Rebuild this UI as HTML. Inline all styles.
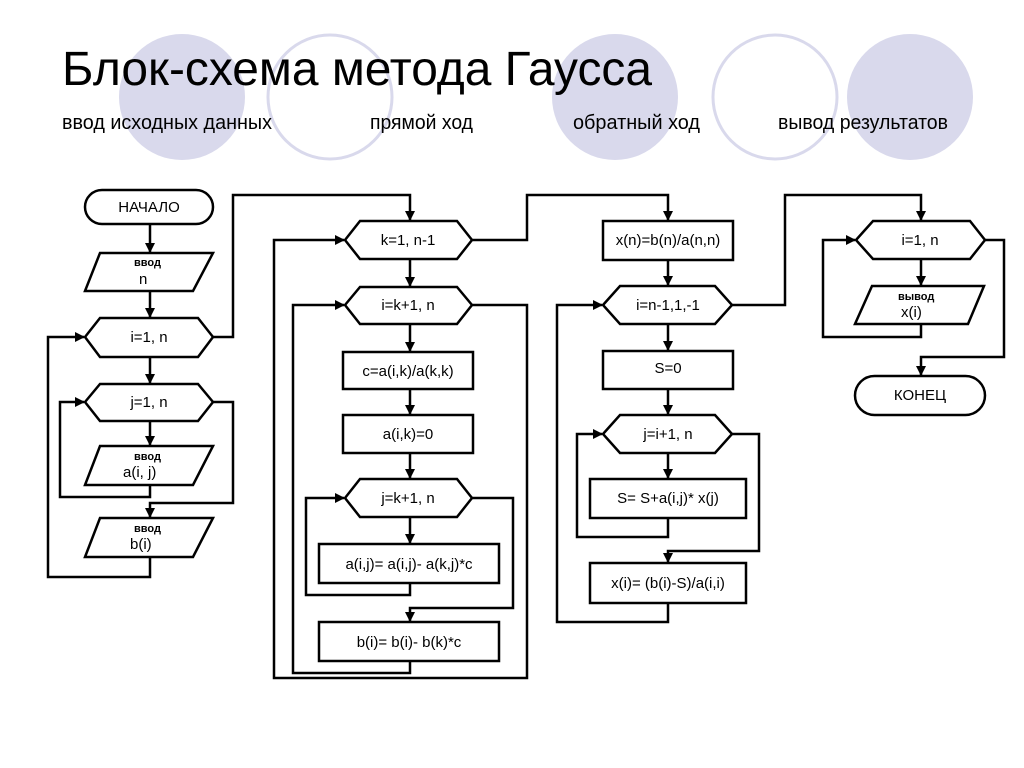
<!DOCTYPE html>
<html><head><meta charset="utf-8"><style>
html,body{margin:0;padding:0;background:#fff;}
svg{display:block;}
text{font-family:"Liberation Sans",sans-serif;fill:#000;}
</style></head><body>
<svg width="1024" height="768" viewBox="0 0 1024 768" xmlns="http://www.w3.org/2000/svg">
<defs>
<marker id="a" markerWidth="10" markerHeight="10" refX="9" refY="5" orient="auto" markerUnits="userSpaceOnUse">
<path d="M0,0 L10,5 L0,10 z" fill="#000"/>
</marker>
</defs>
<circle cx="182" cy="97" r="63" fill="#d9d9ec"/>
<circle cx="330" cy="97" r="62" fill="none" stroke="#d9d9ec" stroke-width="3"/>
<circle cx="615" cy="97" r="63" fill="#d9d9ec"/>
<circle cx="775" cy="97" r="62" fill="none" stroke="#d9d9ec" stroke-width="3"/>
<circle cx="910" cy="97" r="63" fill="#d9d9ec"/>

<text x="62" y="85" font-size="48" textLength="590" lengthAdjust="spacingAndGlyphs">Блок-схема метода Гаусса</text>
<text x="62" y="129" font-size="20" textLength="210" lengthAdjust="spacingAndGlyphs">ввод исходных данных</text>
<text x="370" y="129" font-size="20" textLength="103" lengthAdjust="spacingAndGlyphs">прямой ход</text>
<text x="573" y="129" font-size="20" textLength="127" lengthAdjust="spacingAndGlyphs">обратный ход</text>
<text x="778" y="129" font-size="20" textLength="170" lengthAdjust="spacingAndGlyphs">вывод результатов</text>

<g fill="none" stroke="#000" stroke-width="2.5">
<rect x="85" y="190" width="128" height="34" rx="17" fill="#fff"/>
<polygon points="100,253 213,253 193,291 85,291" fill="#fff"/>
<polygon points="85,337 100,318 198,318 213,337 198,357 100,357" fill="#fff"/>
<polygon points="85,402 100,384 198,384 213,402 198,421 100,421" fill="#fff"/>
<polygon points="100,446 213,446 193,485 85,485" fill="#fff"/>
<polygon points="100,518 213,518 193,557 85,557" fill="#fff"/>
<path d="M150,224 V252" marker-end="url(#a)"/>
<path d="M150,291 V317" marker-end="url(#a)"/>
<path d="M150,357 V383" marker-end="url(#a)"/>
<path d="M150,421 V445" marker-end="url(#a)"/>
<path d="M150,485 V497 H60 V402 H84" marker-end="url(#a)"/>
<path d="M213,402 H233 V503 H150 V517" marker-end="url(#a)"/>
<path d="M150,557 V577 H48 V337 H84" marker-end="url(#a)"/>
<path d="M213,337 H233 V195 H410 V220" marker-end="url(#a)"/>

<polygon points="345,240 360,221 457,221 472,240 457,259 360,259" fill="#fff"/>
<polygon points="345,305 360,287 457,287 472,305 457,324 360,324" fill="#fff"/>
<rect x="343" y="352" width="130" height="37" fill="#fff"/>
<rect x="343" y="415" width="130" height="38" fill="#fff"/>
<polygon points="345,498 360,479 457,479 472,498 457,517 360,517" fill="#fff"/>
<rect x="319" y="544" width="180" height="39" fill="#fff"/>
<rect x="319" y="622" width="180" height="39" fill="#fff"/>
<path d="M410,259 V286" marker-end="url(#a)"/>
<path d="M410,324 V351" marker-end="url(#a)"/>
<path d="M410,389 V414" marker-end="url(#a)"/>
<path d="M410,453 V478" marker-end="url(#a)"/>
<path d="M410,517 V543" marker-end="url(#a)"/>
<path d="M410,583 V595 H306 V498 H344" marker-end="url(#a)"/>
<path d="M472,498 H513 V608 H410 V621" marker-end="url(#a)"/>
<path d="M410,661 V673 H293 V305 H344" marker-end="url(#a)"/>
<path d="M472,305 H527 V678 H274 V240 H344" marker-end="url(#a)"/>
<path d="M472,240 H527 V195 H668 V220" marker-end="url(#a)"/>

<rect x="603" y="221" width="130" height="39" fill="#fff"/>
<polygon points="603,305 620,286 715,286 732,305 715,324 620,324" fill="#fff"/>
<rect x="603" y="351" width="130" height="38" fill="#fff"/>
<polygon points="603,434 620,415 715,415 732,434 715,453 620,453" fill="#fff"/>
<rect x="590" y="479" width="156" height="39" fill="#fff"/>
<rect x="590" y="563" width="156" height="40" fill="#fff"/>
<path d="M668,260 V285" marker-end="url(#a)"/>
<path d="M668,324 V350" marker-end="url(#a)"/>
<path d="M668,389 V414" marker-end="url(#a)"/>
<path d="M668,453 V478" marker-end="url(#a)"/>
<path d="M668,518 V537 H577 V434 H602" marker-end="url(#a)"/>
<path d="M732,434 H759 V551 H668 V562" marker-end="url(#a)"/>
<path d="M668,603 V622 H557 V305 H602" marker-end="url(#a)"/>
<path d="M732,305 H785 V195 H921 V220" marker-end="url(#a)"/>

<polygon points="856,240 873,221 970,221 985,240 970,259 873,259" fill="#fff"/>
<polygon points="872,286 984,286 968,324 855,324" fill="#fff"/>
<rect x="855" y="376" width="130" height="39" rx="19.5" fill="#fff"/>
<path d="M921,259 V285" marker-end="url(#a)"/>
<path d="M921,324 V337 H823 V240 H855" marker-end="url(#a)"/>
<path d="M985,240 H1004 V357 H921 V375" marker-end="url(#a)"/>
</g>

<g font-size="15" text-anchor="middle">
<text x="149" y="212">НАЧАЛО</text>
<text x="149" y="342">i=1, n</text>
<text x="149" y="407">j=1, n</text>
<text x="408" y="245">k=1, n-1</text>
<text x="408" y="310">i=k+1, n</text>
<text x="408" y="376">c=a(i,k)/a(k,k)</text>
<text x="408" y="439">a(i,k)=0</text>
<text x="408" y="503">j=k+1, n</text>
<text x="409" y="569">a(i,j)= a(i,j)- a(k,j)*c</text>
<text x="409" y="647">b(i)= b(i)- b(k)*c</text>
<text x="668" y="245">x(n)=b(n)/a(n,n)</text>
<text x="668" y="310">i=n-1,1,-1</text>
<text x="668" y="373">S=0</text>
<text x="668" y="439">j=i+1, n</text>
<text x="668" y="503">S= S+a(i,j)* x(j)</text>
<text x="668" y="588">x(i)= (b(i)-S)/a(i,i)</text>
<text x="920" y="245">i=1, n</text>
<text x="920" y="400">КОНЕЦ</text>
</g>
<g font-size="11" font-weight="bold">
<text x="134" y="266">ввод</text>
<text x="134" y="460">ввод</text>
<text x="134" y="532">ввод</text>
<text x="898" y="300">вывод</text>
</g>
<g font-size="15">
<text x="139" y="284">n</text>
<text x="123" y="477">a(i, j)</text>
<text x="130" y="549">b(i)</text>
<text x="901" y="317">x(i)</text>
</g>
</svg>
</body></html>
